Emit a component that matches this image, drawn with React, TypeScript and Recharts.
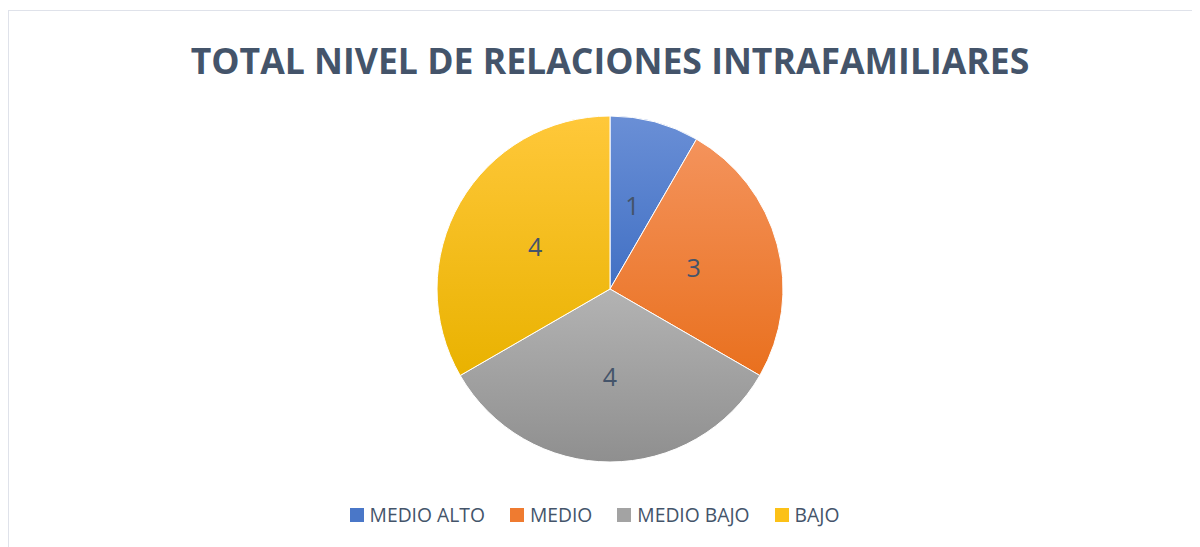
import React from "react";
import { PieChart, Pie, Cell, Legend } from "recharts";

const categories = ["MEDIO ALTO", "MEDIO", "MEDIO BAJO", "BAJO"];
const values = [1, 3, 4, 4];
const colorsTop = ["#6a8fd6", "#f4935c", "#b3b3b3", "#ffc83a"];
const colorsBottom = ["#4170c4", "#e9701e", "#8f8f8f", "#e9b200"];
const legendColors = ["#4a77c8", "#ef7b30", "#a3a3a3", "#fcc117"];
const title = "TOTAL NIVEL DE RELACIONES INTRAFAMILIARES";

const data = categories.map((name, i) => ({ name, value: values[i] }));

const FONT = "'Open Sans', 'Noto Sans', sans-serif";
const TEXT = "#44546a";

const renderLabel = (props: any) => {
  const { cx, cy, midAngle, outerRadius, value } = props;
  const RAD = Math.PI / 180;
  const r = outerRadius * 0.5;
  const x = cx + r * Math.cos(-midAngle * RAD);
  const y = cy + r * Math.sin(-midAngle * RAD);
  return (
    <text x={x} y={y} fill={TEXT} textAnchor="middle" dominantBaseline="central" fontSize={25} fontFamily={FONT}>
      {value}
    </text>
  );
};

const LegendContent = () => (
  <div style={{ display: "flex", justifyContent: "center", fontFamily: FONT, fontSize: 19.3, color: TEXT, paddingRight: 28 }}>
    {data.map((d, i) => (
      <div key={d.name} style={{ display: "flex", alignItems: "center", marginRight: i < data.length - 1 ? 25 : 0 }}>
        <span style={{ display: "inline-block", width: 14, height: 14, background: legendColors[i], marginRight: 6 }} />
        <span>{d.name}</span>
      </div>
    ))}
  </div>
);

export default function App() {
  return (
    <div style={{ position: "relative", width: 1200, height: 545, marginTop: 2, borderTop: "1px solid #dfe2ea", borderLeft: "1px solid #dfe2ea", boxSizing: "border-box", background: "#fff" }}>
      <div style={{ position: "absolute", left: 0, top: 25, width: 1202, textAlign: "center", fontFamily: FONT, fontWeight: 700, fontSize: 35.6, color: TEXT, letterSpacing: 0 }}>
        {title}
      </div>
      <PieChart width={1199} height={544}>
        <defs>
          {data.map((d, i) => (
            <linearGradient key={i} id={`g${i}`} x1="0" y1="0" x2="0" y2="1">
              <stop offset="0%" stopColor={colorsTop[i]} />
              <stop offset="100%" stopColor={colorsBottom[i]} />
            </linearGradient>
          ))}
        </defs>
        <Pie
          data={data}
          dataKey="value"
          nameKey="name"
          cx={596}
          cy={273}
          outerRadius={173}
          startAngle={90}
          endAngle={-270}
          stroke="#ffffff"
          strokeWidth={1}
          label={renderLabel}
          labelLine={false}
          isAnimationActive={false}
        >
          {data.map((d, i) => (
            <Cell key={d.name} fill={`url(#g${i})`} />
          ))}
        </Pie>
        <Legend
          content={<LegendContent />}
          wrapperStyle={{ position: "absolute", left: 0, top: 490, width: 1199 }}
        />
      </PieChart>
    </div>
  );
}
